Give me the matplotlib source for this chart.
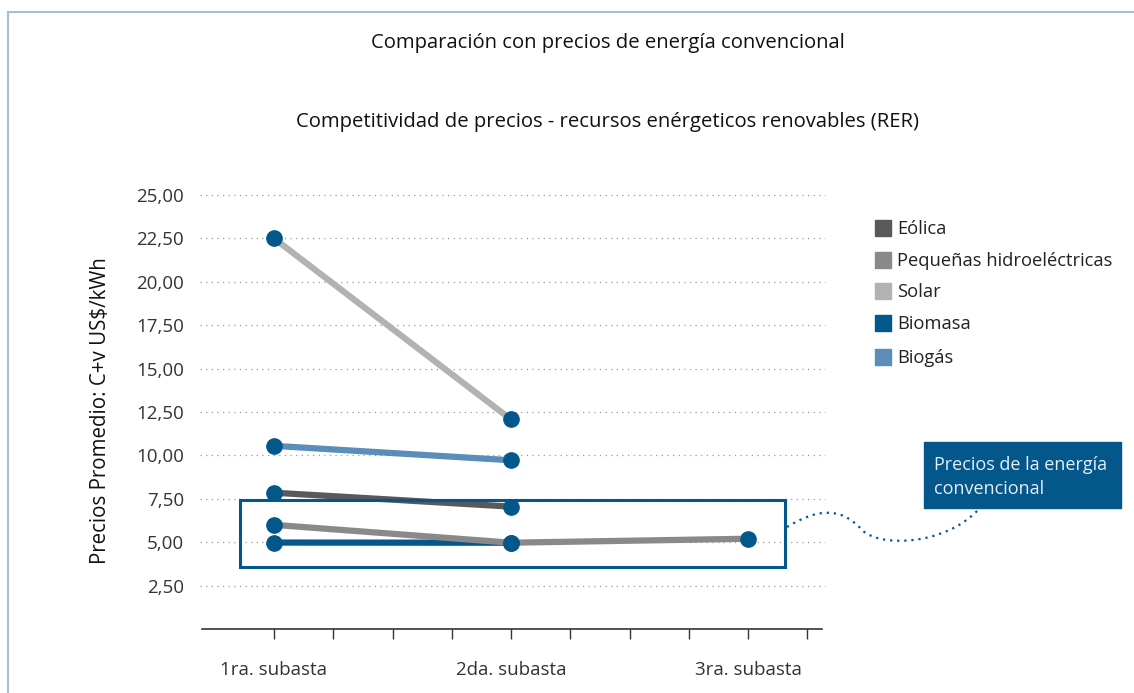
import matplotlib
matplotlib.use("Agg")
import matplotlib.pyplot as plt
import numpy as np
from matplotlib.patches import Rectangle
from matplotlib.path import Path
from matplotlib.patches import PathPatch

plt.rcParams['font.family'] = ['Open Sans', 'DejaVu Sans']

categories = ["1ra. subasta", "2da. subasta", "3ra. subasta"]
eolica = [7.85, 7.05]
pequenas = [6.0, 4.97, 5.2]
solar = [22.5, 12.07]
biomasa = [4.98, 4.97]
biogas = [10.55, 9.72]
yticks = [2.5, 5.0, 7.5, 10.0, 12.5, 15.0, 17.5, 20.0, 22.5, 25.0]
ytick_labels = ["2,50", "5,00", "7,50", "10,00", "12,50", "15,00", "17,50", "20,00", "22,50", "25,00"]

series = [
    ("Eólica", eolica, "#59595b"),
    ("Pequeñas hidroeléctricas", pequenas, "#898989"),
    ("Solar", solar, "#b2b2b2"),
    ("Biomasa", biomasa, "#03578b"),
    ("Biogás", biogas, "#5b8dba"),
]
marker_color = "#03578b"

W, H = 1134, 693
fig = plt.figure(figsize=(W / 100, H / 100), dpi=100)
ax = fig.add_axes([202 / W, 1 - 629 / H, 620 / W, (629 - 195) / H])
ppu = 237.0
ax.set_xlim(-72 / ppu, 2 + 74 / ppu)
ax.set_ylim(0, 25)

xs = np.arange(len(categories))
for i in [2, 4, 0, 3, 1]:
    name, vals, col = series[i]
    ax.plot(xs[:len(vals)], vals, color=col, lw=4.5, solid_capstyle='butt', zorder=3)
for i in range(len(series)):
    name, vals, col = series[i]
    ax.plot(xs[:len(vals)], vals, linestyle='none', marker='o', ms=11,
            color=marker_color, zorder=5)

for yv in yticks:
    ax.axhline(yv, color="#9a9a9a", lw=0.9, ls=(0, (1, 3.5)), zorder=1,
               xmin=-0.003, xmax=1.005, clip_on=False)

ax.set_yticks(yticks)
ax.set_yticklabels(ytick_labels, fontsize=13.5, color="#333333")
ax.tick_params(axis='y', length=0, pad=13)
ax.set_xticks(np.arange(0, 2.26, 0.25), minor=True)
ax.set_xticks(xs)
ax.set_xticklabels(categories, fontsize=13.5, color="#333333")
ax.tick_params(axis='x', which='both', length=7, direction='out', color="#333333", width=1)
ax.tick_params(axis='x', which='major', pad=16)
for s in ['top', 'right', 'left']:
    ax.spines[s].set_visible(False)
ax.spines['bottom'].set_color("#333333")
ax.spines['bottom'].set_linewidth(1.2)

ax.set_ylabel("Precios Promedio: C+v US$/kWh", fontsize=14.8, color="#111111")
ax.yaxis.set_label_coords((111 - 202) / 620, (629 - 411) / (629 - 195))

# highlight box
ax.add_patch(Rectangle((-0.143, 3.58), 2.157 + 0.143, 7.45 - 3.58, fill=False,
                       edgecolor="#03578b", lw=2.2, zorder=6, clip_on=False))

# titles
fig.text(608 / W, 1 - 43 / H, "Comparación con precios de energía convencional",
         ha='center', va='center', fontsize=14.6, color="#111111")
fig.text(607 / W, 1 - 122 / H, "Competitividad de precios - recursos enérgeticos renovables (RER)",
         ha='center', va='center', fontsize=14.6, color="#111111")

# legend
ly = [228, 260, 291, 323, 357]
for (name, vals, col), yy in zip(series, ly):
    fig.patches.append(Rectangle((875 / W, 1 - (yy + 8) / H), 16 / W, 16 / H,
                                 transform=fig.transFigure, color=col, figure=fig))
    fig.text(897 / W, 1 - (yy + 1) / H, name, ha='left', va='center', fontsize=13.2, color="#222222")

# annotation box
fig.patches.append(Rectangle((924 / W, 1 - 508 / H), (1121 - 924) / W, (508 - 442) / H,
                             transform=fig.transFigure, color="#03578b", figure=fig))
fig.text(934 / W, 1 - 477 / H, "Precios de la energía\nconvencional", ha='left', va='center',
         fontsize=13, color="#e6eef5", linespacing=1.45)

# dotted wavy connector
verts = [(787, 527), (815, 510), (840, 505), (862, 530),
         (880, 548), (945, 545), (978, 510)]
pts = [(vx / W, 1 - vy / H) for vx, vy in verts]
codes = [Path.MOVETO, Path.CURVE4, Path.CURVE4, Path.CURVE4, Path.CURVE4, Path.CURVE4, Path.CURVE4]
fig.patches.append(PathPatch(Path(pts, codes), transform=fig.transFigure, fill=False,
                             edgecolor="#03578b", lw=1.6, ls=(0, (1, 2.2)), figure=fig))

# frame border
fig.add_artist(plt.Line2D([7.5 / W, 7.5 / W], [0, 1 - 12 / H], transform=fig.transFigure,
                          color="#a5bfd8", lw=1.5))
fig.add_artist(plt.Line2D([7.5 / W, 1], [1 - 12 / H, 1 - 12 / H], transform=fig.transFigure,
                          color="#a5bfd8", lw=1.5))

fig.savefig("out.png", dpi=100)
